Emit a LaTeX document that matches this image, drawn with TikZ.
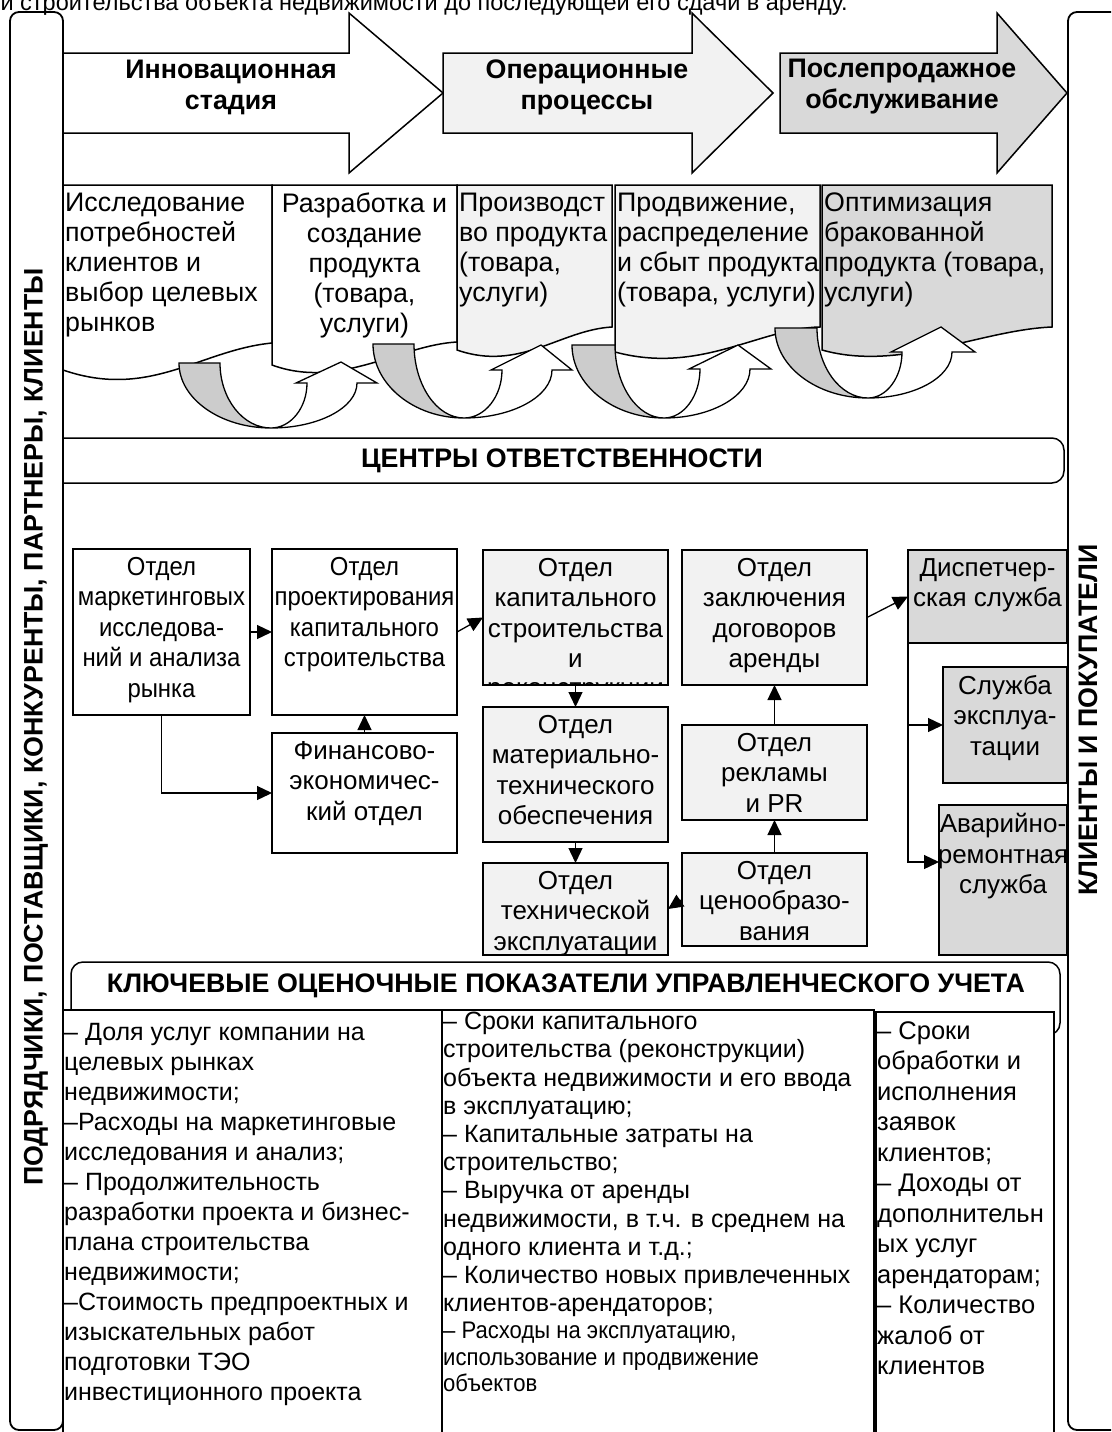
\documentclass[tikz,border=0pt]{standalone}
\usepackage{fontspec}
\setmainfont{Liberation Sans}
\newfontfamily\condfont[FakeStretch=0.92]{Liberation Sans}
\usetikzlibrary{arrows.meta,calc}
\definecolor{lightg}{HTML}{F2F2F2}
\definecolor{midg}{HTML}{D9D9D9}
\definecolor{arrg}{HTML}{CCCCCC}
\begin{document}
\begin{tikzpicture}[x=1pt,y=-1pt,line join=miter,
  obox/.style={draw=black,line width=1.8pt,rounded corners=9pt},
  shp/.style={draw=black,line width=1.5pt},
  dbox/.style={draw=black,line width=1.5pt,inner sep=0pt,outer sep=0pt},
  dtext/.style={anchor=north,align=center,inner sep=0pt,yshift=-8pt,font=\fontsize{26}{30.5}\selectfont},
  ctext/.style={dtext,font=\condfont\fontsize{26}{30.5}\selectfont},
  stext/.style={anchor=north west,align=left,inner sep=0pt,font=\fontsize{26.8}{30}\selectfont},
  htext/.style={align=center,inner sep=0pt,font=\bfseries\fontsize{26.8}{31}\selectfont},
  ktext/.style={anchor=north west,align=left,inner sep=0pt},
  arr/.style={line width=1.3pt,-{Triangle[length=15pt,width=14pt]}}]
\useasboundingbox (0,0) rectangle (1111,1432);
\clip (0,0) rectangle (1111,1432);

% caption line cut by the top edge of the picture
\node[anchor=base east,inner sep=0pt,font=\fontsize{23.5}{28}\selectfont] (toptext) at (848,10.5)
  {и строительства объекта недвижимости до последующей его сдачи в аренду.};

% big stage arrows
\draw[shp,fill=white] (62,53) -- (349,53) -- (349,13) -- (443,93) -- (349,173) -- (349,133) -- (62,133);
\draw[shp,fill=lightg] (443,53) -- (692,53) -- (692,13) -- (773,93) -- (692,173) -- (692,133) -- (443,133) -- cycle;
\draw[shp,fill=midg] (780,53) -- (997,53) -- (997,13) -- (1067,93) -- (997,173) -- (997,133) -- (780,133) -- cycle;
\node[htext] (h1) at (231,87) {Инновационная\\стадия};
\node[htext] (h2) at (587,87) {Операционные\\процессы};
\node[htext] (h3) at (902,87) {Послепродажное\\обслуживание};

% process boxes with wavy bottoms
\draw[shp,fill=white] (63,185) -- (272,185) -- (272,343) .. controls (200,350) and (150,400) .. (63,370) -- cycle;
\draw[shp,fill=white] (272,185) -- (457,185) -- (457,342) .. controls (400,345) and (340,390) .. (272,365) -- cycle;
\draw[shp,fill=lightg] (457,185) -- (612,185) -- (612,327) .. controls (560,330) and (520,372) .. (457,350) -- cycle;
\draw[shp,fill=lightg] (615,185) -- (820,185) -- (820,327) .. controls (760,328) and (700,375) .. (615,352) -- cycle;
\draw[shp,fill=midg] (822,185) -- (1052,185) -- (1052,327) .. controls (980,330) and (900,372) .. (822,350) -- cycle;
\node[stext] (s1) at (65,193) {Исследование\\потребностей\\клиентов и\\выбор целевых\\рынков};
\node[stext,anchor=north,align=center] (s2) at (364.5,193) {Разработка и\\создание\\продукта\\(товара,\\услуги)};
\node[stext] (s3) at (459,193) {Производст\\во продукта\\(товара,\\услуги)};
\node[stext] (s4) at (617,193) {Продвижение,\\распределение\\и сбыт продукта\\(товара, услуги)};
\node[stext] (s5) at (824,193) {Оптимизация\\бракованной\\продукта (товара,\\услуги)};

% curved U-turn arrows
\draw[shp,line width=1.3pt,fill=arrg] (179,363) -- (220,363) .. controls (220,398.75) and (242.95,428) .. (271,428) .. controls (220.4,428) and (179,398.75) .. cycle;
\draw[shp,line width=1.3pt,fill=white] (271,428) .. controls (318.3,428) and (357,407.75) .. (357,383) -- (377,383) -- (341,362) -- (296,383) -- (307,383) .. controls (307,407.75) and (290.8,428) .. cycle;
\draw[shp,line width=1.3pt,fill=arrg] (373,344) -- (414,344) .. controls (414,384.7) and (436.5,418) .. (464,418) .. controls (413.95,418) and (373,384.7) .. cycle;
\draw[shp,line width=1.3pt,fill=white] (464,418) .. controls (512.4,418) and (552,396.4) .. (552,370) -- (572,370) -- (541,345) -- (491,370) -- (502,370) .. controls (502,396.4) and (484.9,418) .. cycle;
\draw[shp,line width=1.3pt,fill=arrg] (572,345) -- (615,345) .. controls (615,385.15) and (637.05,418) .. (664,418) .. controls (613.4,418) and (572,385.15) .. cycle;
\draw[shp,line width=1.3pt,fill=white] (664,418) .. controls (711.3,418) and (750,395.95) .. (750,369) -- (771,369) -- (738,345) -- (689,369) -- (700,369) .. controls (700,395.95) and (683.8,418) .. cycle;
\draw[shp,line width=1.3pt,fill=arrg] (775,328) -- (817,328) .. controls (817,366.5) and (839.95,398) .. (868,398) .. controls (816.85,398) and (775,366.5) .. cycle;
\draw[shp,line width=1.3pt,fill=white] (868,398) .. controls (914.2,398) and (952,377.3) .. (952,352) -- (975,352) -- (941,327) -- (891,352) -- (902,352) .. controls (902,377.3) and (886.7,398) .. cycle;

% responsibility centres band
\draw[shp,rounded corners=12pt] (63,438) -- (1064,438) -- (1064,483) -- (63,483);
\node[htext] (centers) at (562,461) {ЦЕНТРЫ ОТВЕТСТВЕННОСТИ};

% departments
\node[dbox,fill=white,minimum width=177pt,minimum height=166pt] (mark) at (161.5,632) {};
\node[dbox,fill=white,minimum width=185pt,minimum height=166pt] (proj) at (364.5,632) {};
\node[dbox,fill=lightg,minimum width=185pt,minimum height=135pt] (kap) at (575.5,617.5) {};
\node[dbox,fill=lightg,minimum width=185pt,minimum height=135pt] (zak) at (774.5,617.5) {};
\node[dbox,fill=midg,minimum width=159pt,minimum height=93pt] (disp) at (987.5,596.5) {};
\node[dbox,fill=white,minimum width=185pt,minimum height=120pt] (fin) at (364.5,793) {};
\node[dbox,fill=lightg,minimum width=185pt,minimum height=135pt] (mat) at (575.5,774.5) {};
\node[dbox,fill=lightg,minimum width=185pt,minimum height=95pt] (rek) at (774.5,772.5) {};
\node[dbox,fill=midg,minimum width=124pt,minimum height=116pt] (sluzh) at (1005,725) {};
\node[dbox,fill=lightg,minimum width=185pt,minimum height=92pt] (tech) at (575.5,909) {};
\node[dbox,fill=lightg,minimum width=185pt,minimum height=93pt] (cen) at (774.5,899.5) {};
\node[dbox,fill=midg,minimum width=128pt,minimum height=150pt] (avar) at (1003,880) {};

\node[ctext] (tmark) at (mark.north) {Отдел\\маркетинговых\\исследова-\\ний и анализа\\рынка};
\node[ctext] (tproj) at (proj.north) {Отдел\\проектирования\\капитального\\строительства};
\begin{scope}
  \clip (483,551) rectangle (668,685);
  \node[dtext] (tkap) at (kap.north) {Отдел\\капитального\\строительства\\и\\[-2pt]реконструкции};
\end{scope}
\node[dtext] (tzak) at (zak.north) {Отдел\\заключения\\договоров\\аренды};
\node[dtext] (tdisp) at (disp.north) {Диспетчер-\\ская служба};
\node[dtext] (tfin) at (fin.north) {Финансово-\\экономичес-\\кий отдел};
\node[dtext] (tmat) at (mat.north) {Отдел\\материально-\\технического\\обеспечения};
\node[dtext] (trek) at (rek.north) {Отдел\\рекламы\\и PR};
\node[dtext] (tsluzh) at (sluzh.north) {Служба\\эксплуа-\\тации};
\node[dtext] (ttech) at (tech.north) {Отдел\\технической\\эксплуатации};
\node[dtext] (tcen) at (cen.north) {Отдел\\ценообразо-\\вания};
\node[dtext] (tavar) at (avar.north) {Аварийно-\\ремонтная\\служба};

\draw[arr] (mark.east) -- (proj.west);
\draw[arr] (proj.east) -- (kap.west);
\draw[arr] (mark.south) |- (fin.west);
\draw[arr] (fin.north) -- (proj.south);
\draw[arr] (kap.south) -- (mat.north);
\draw[arr] (mat.south) -- (tech.north);
\draw[arr] (cen.west) -- (tech.east);
\draw[arr] (cen.north) -- (rek.south);
\draw[arr] (rek.north) -- (zak.south);
\draw[arr] (zak.east) -- (disp.west);
\coordinate (bus) at (disp.south west);
\draw[arr] (bus) |- (sluzh.west);
\draw[arr] (bus) |- ($(avar.north west)!0.38!(avar.south west)$);

% key indicators
\draw[shp,rounded corners=12pt,fill=white] (71,962) rectangle (1060,1035);
\node[htext] (kpih) at (566,986) {КЛЮЧЕВЫЕ ОЦЕНОЧНЫЕ ПОКАЗАТЕЛИ УПРАВЛЕНЧЕСКОГО УЧЕТА};
\draw[shp,fill=white] (63,1010) rectangle (442,1460);
\draw[shp,fill=white] (442,1010) rectangle (874,1460);
\draw[shp,fill=white] (876,1012) rectangle (1054,1460);
\node[ktext,font=\fontsize{25}{30}\selectfont] (k1) at (64,1023)
 {– Доля услуг компании на\\целевых рынках\\недвижимости;\\–Расходы на маркетинговые\\исследования и анализ;\\– Продолжительность\\разработки проекта и бизнес-\\плана строительства\\недвижимости;\\–Стоимость предпроектных и\\изыскательных работ\\подготовки ТЭО\\инвестиционного проекта};
\node[ktext,font=\fontsize{25}{28.2}\selectfont] (k2) at (443,1012)
 {– Сроки капитального\\строительства (реконструкции)\\объекта недвижимости и его ввода\\в эксплуатацию;\\– Капитальные затраты на\\строительство;\\– Выручка от аренды\\недвижимости, в т.ч. в среднем на\\одного клиента и т.д.;\\– Количество новых привлеченных\\клиентов-арендаторов;};
\node[ktext,font=\condfont\fontsize{24}{26.5}\selectfont] (k2b) at (443,1322)
 {– Расходы на эксплуатацию,\\использование и продвижение\\объектов};
\node[ktext,font=\fontsize{25.5}{30.5}\selectfont] (k3) at (877,1021)
 {– Сроки\\обработки и\\исполнения\\заявок\\клиентов;\\– Доходы от\\дополнительн\\ых услуг\\арендаторам;\\– Количество\\жалоб от\\клиентов};

% side panels
\draw[obox] (10,12) rectangle (63,1430);
\draw[obox] (1140,12) -- (1068,12) -- (1068,1430) -- (1140,1430);
\node[htext,rotate=90] (lefttxt) at (36,727) {ПОДРЯДЧИКИ, ПОСТАВЩИКИ, КОНКУРЕНТЫ, ПАРТНЕРЫ, КЛИЕНТЫ};
\node[htext,rotate=90] (righttxt) at (1088,720) {КЛИЕНТЫ И ПОКУПАТЕЛИ};
\end{tikzpicture}
\end{document}
